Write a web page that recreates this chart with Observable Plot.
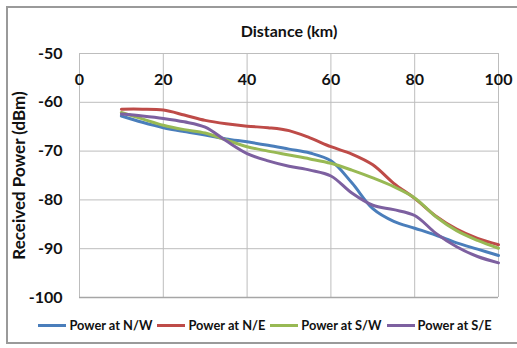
<!DOCTYPE html>
<html>
<head>
<meta charset="utf-8">
<script src="https://cdn.jsdelivr.net/npm/d3@7"></script>
<script src="https://cdn.jsdelivr.net/npm/@observablehq/plot@0.6"></script>
<style>
  html, body { margin: 0; padding: 0; background: #fff; }
  #wrap { position: relative; width: 517px; height: 348px; overflow: hidden; background: #fff; }
  #frame { position: absolute; left: 6px; top: 6px; width: 540px; height: 338px; border: 2px solid #9a9a9a; box-sizing: border-box; pointer-events: none; }
  #chart { position: absolute; left: 0; top: 0; }
  #legend { position: absolute; left: 0; top: 312px; width: 530px; height: 26px; display: flex; justify-content: center; align-items: center;
    font-family: Lato, "Open Sans", sans-serif; font-weight: bold; font-size: 12.8px; color: #111; gap: 5px; }
  .item { display: flex; align-items: center; gap: 3px; }
  .sw { width: 28px; height: 3px; }
</style>
</head>
<body>
<div id="wrap">
  <div id="chart"></div>
  <div id="legend"></div>
  <div id="frame"></div>
</div>
<script>
const distance = [10, 15, 20, 25, 30, 35, 40, 45, 50, 55, 60, 65, 70, 75, 80, 85, 90, 95, 100];
const powerNW = [-62.8, -64.1, -65.2, -66.0, -66.7, -67.5, -68.1, -68.8, -69.6, -70.4, -72.0, -76.5, -81.8, -84.4, -85.8, -87.2, -88.8, -90.1, -91.4];
const powerNE = [-61.4, -61.4, -61.6, -62.6, -63.7, -64.4, -64.9, -65.2, -65.8, -67.3, -69.1, -70.6, -72.8, -76.6, -79.7, -83.3, -86.0, -87.9, -89.2];
const powerSW = [-62.1, -63.4, -64.7, -65.6, -66.3, -67.7, -69.1, -70.0, -70.8, -71.6, -72.5, -73.9, -75.5, -77.3, -79.6, -83.4, -86.3, -88.3, -89.9];
const powerSE = [-62.4, -62.8, -63.3, -64.0, -65.1, -67.9, -70.5, -72.0, -73.1, -73.9, -75.1, -78.6, -81.1, -82.0, -83.2, -86.8, -89.6, -91.6, -92.9];
const seriesNames = ["Power at N/W", "Power at N/E", "Power at S/W", "Power at S/E"];
const seriesColors = ["#4a7ebb", "#be4b48", "#98b954", "#7d60a0"];
const xTicks = [0, 20, 40, 60, 80, 100];
const yTicks = [-50, -60, -70, -80, -90, -100];
const xTitle = "Distance (km)";
const yTitle = "Received Power (dBm)";

const allSeries = [powerNW, powerNE, powerSW, powerSE];
const rows = [];
allSeries.forEach((vals, i) => {
  vals.forEach((v, j) => rows.push({ series: seriesNames[i], d: distance[j], p: v }));
});

const font = 'Lato, "Open Sans", sans-serif';

const chart = Plot.plot({
  width: 517,
  height: 310,
  marginLeft: 79,
  marginRight: 19,
  marginTop: 53,
  marginBottom: 13,
  style: { fontFamily: font, background: "transparent", overflow: "visible" },
  x: { domain: [0, 100], ticks: xTicks },
  y: { domain: [-100, -50], ticks: yTicks },
  color: { domain: seriesNames, range: seriesColors },
  marks: [
    Plot.ruleX(xTicks, { stroke: "#bdbdbd", strokeWidth: 1 }),
    Plot.ruleY(yTicks.filter(t => t !== -100), { stroke: "#bdbdbd", strokeWidth: 1 }),
    Plot.ruleY([-100], { stroke: "#a6a6a6", strokeWidth: 1.5 }),
    Plot.lineY(rows, { x: "d", y: "p", z: "series", stroke: "series", strokeWidth: 3, curve: "catmull-rom" }),
    Plot.axisY(yTicks, { tickSize: 0, tickPadding: 17, fontSize: 16, fontWeight: "bold", fill: "#111", tickFormat: d => d, label: null }),
    Plot.axisX(xTicks, { anchor: "top", tickSize: 0, tickPadding: 0, dy: 31, fontSize: 16, fontWeight: "bold", fill: "#111", tickFormat: d => d, label: null }),
    Plot.text([xTitle], { frameAnchor: "top", dy: -28, fontSize: 16, fontWeight: "bold", fill: "#111" }),
    Plot.text([yTitle], { frameAnchor: "left", dx: -60, rotate: -90, textAnchor: "middle", fontSize: 17, fontWeight: "bold", fill: "#111" })
  ]
});
document.getElementById("chart").appendChild(chart);

const legend = document.getElementById("legend");
seriesNames.forEach((name, i) => {
  const item = document.createElement("div");
  item.className = "item";
  const sw = document.createElement("div");
  sw.className = "sw";
  sw.style.background = seriesColors[i];
  const label = document.createElement("span");
  label.textContent = name;
  item.appendChild(sw);
  item.appendChild(label);
  legend.appendChild(item);
});
</script>
</body>
</html>
